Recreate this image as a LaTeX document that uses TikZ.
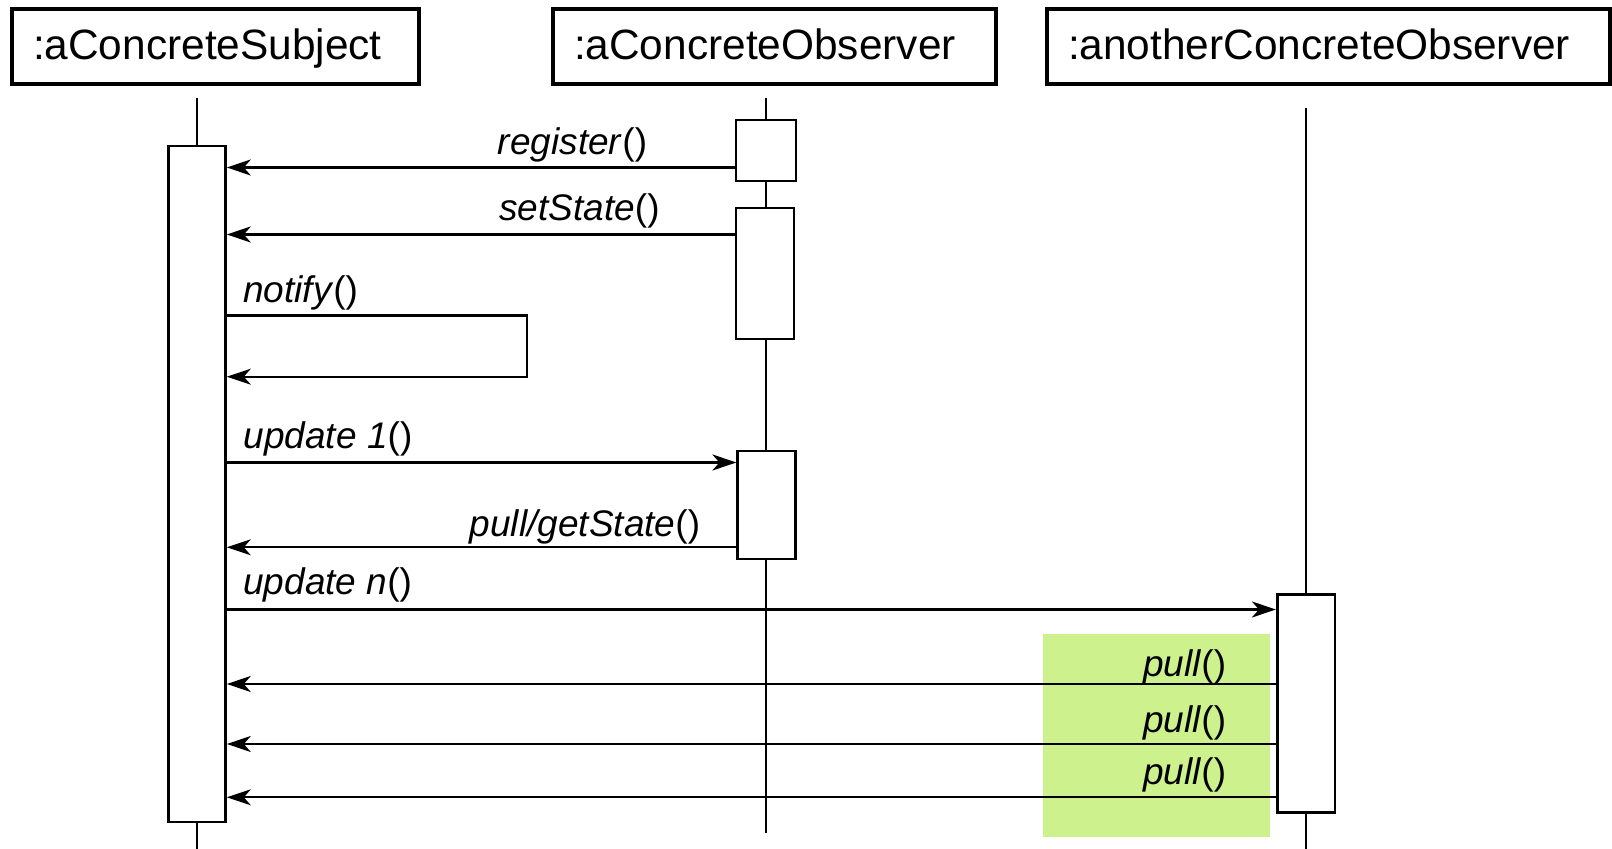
\documentclass[tikz,border=0pt]{standalone}
\usepackage{fontspec}
\setmainfont{Liberation Sans}
\usetikzlibrary{arrows.meta,positioning}
\definecolor{pullgreen}{RGB}{205,242,141}

\begin{document}
\begin{tikzpicture}[
    x=0.5pt, y=-0.5pt,
    head/.style={
        draw=black,
        line width=1.6pt,
        minimum height=37.5pt,
        inner xsep=10.5pt,
        text height=16pt,
        text depth=3pt,
        align=left,
        font=\fontsize{21.2}{25}\selectfont
    },
    life/.style={line width=1pt},
    act/.style={
        draw=black,
        line width=1.3pt,
        fill=white,
        minimum width=28.5pt,
        inner sep=0pt
    },
    msg/.style={-{Stealth[length=12pt,width=8pt,inset=3.5pt]}, line width=1.15pt},
    lbl/.style={inner sep=0pt, font=\fontsize{18.5}{22}\selectfont}
]
\useasboundingbox (0,0) rectangle (1612,849);

% highlighted pull calls
\node[fill=pullgreen, inner sep=0pt, minimum width=113.5pt, minimum height=101.5pt] (hl) at (1156.5,735.5) {};

% objects
\node[head, text width=182.5pt] (subj) at (215.5,46.5) {:aConcreteSubject};
\node[head, text width=200.5pt] (obs) at (774.5,46.5) {:aConcreteObserver};
\node[head, text width=260.5pt] (other) at (1328.5,46.5) {:anotherConcreteObserver};

% lifelines
\coordinate (l1top) at (197,98);
\coordinate (l1bot) at (197,849);
\coordinate (l2top) at (766,98);
\coordinate (l2bot) at (766,833);
\coordinate (l3top) at (1305.5,108);
\coordinate (l3bot) at (1305.5,849);
\draw[life] (l1top) -- (l1bot);
\draw[life] (l2top) -- (l2bot);
\draw[life] (l3top) -- (l3bot);

% activations
\node[act, minimum height=338pt] (sA) at (197,484) {};
\node[act, minimum width=30pt, minimum height=30.5pt] (oA1) at (766,150.5) {};
\node[act, minimum width=29pt, minimum height=65.5pt] (oA2) at (765,273.5) {};
\node[act, minimum width=28.8pt, minimum height=54pt] (oA3) at (766.5,505) {};
\node[act, minimum width=28.8pt, minimum height=109.2pt] (aA) at (1306,703.5) {};

% message levels
\coordinate (mReg) at (0,167.5);
\coordinate (mSet) at (0,234.5);
\coordinate (mNot) at (0,315.5);
\coordinate (nLoopA) at (527,315.5);
\coordinate (nLoopB) at (527,376.7);
\coordinate (mUp1) at (0,462.5);
\coordinate (mGet) at (0,547.3);
\coordinate (mUpN) at (0,609.5);
\coordinate (mP1) at (0,684);
\coordinate (mP2) at (0,744);
\coordinate (mP3) at (0,797.3);

\draw[msg] (oA1.west |- mReg) -- (sA.east |- mReg);
\draw[msg] (oA2.west |- mSet) -- (sA.east |- mSet);
\draw[msg] (sA.east |- mNot) -- (nLoopA) -- (nLoopB) -- (sA.east |- nLoopB);
\draw[msg] (sA.east |- mUp1) -- (oA3.west |- mUp1);
\draw[msg] (oA3.west |- mGet) -- (sA.east |- mGet);
\draw[msg] (sA.east |- mUpN) -- (aA.west |- mUpN);
\draw[msg] (aA.west |- mP1) -- (sA.east |- mP1);
\draw[msg] (aA.west |- mP2) -- (sA.east |- mP2);
\draw[msg] (aA.west |- mP3) -- (sA.east |- mP3);

% message labels
\node[lbl, anchor=base east] (tReg) at (647.5,154.3) {\textit{register}()};
\node[lbl, anchor=base east] (tSet) at (660,220.3) {\textit{setState}()};
\node[lbl, anchor=base west] (tNot) at (242.7,302.7) {\textit{notify}()};
\node[lbl, anchor=base west] (tUp1) at (243.3,448.3) {\textit{update 1}()};
\node[lbl, anchor=base east] (tGet) at (700.5,536.7) {\textit{pull/getState}()};
\node[lbl, anchor=base west] (tUpN) at (243,594.3) {\textit{update n}()};
\node[lbl, anchor=base east] (tP1) at (1226.5,676.7) {\textit{pull}()};
\node[lbl, anchor=base east] (tP2) at (1226.5,732.7) {\textit{pull}()};
\node[lbl, anchor=base east] (tP3) at (1226.5,784) {\textit{pull}()};

\end{tikzpicture}
\end{document}
